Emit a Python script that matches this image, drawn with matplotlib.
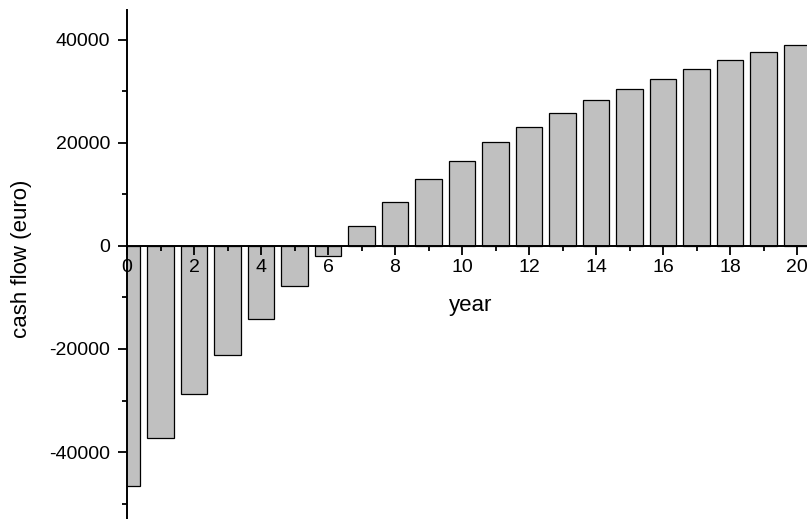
import matplotlib
matplotlib.use("Agg")
import matplotlib.pyplot as plt
from matplotlib.ticker import MultipleLocator

years = list(range(21))
cash_flow = [-46600, -37300, -28750, -21100, -14100, -7700, -1900,
             3850, 8600, 13000, 16550, 20200, 23150, 25800, 28350,
             30550, 32500, 34350, 36050, 37600, 39000]
x_ticks = [0, 2, 4, 6, 8, 10, 12, 14, 16, 18, 20]
y_ticks = [-40000, -20000, 0, 20000, 40000]

plt.rcParams['font.family'] = ['Liberation Sans', 'DejaVu Sans']
plt.rcParams['axes.unicode_minus'] = False

W, H = 807, 519
fig = plt.figure(figsize=(W / 100, H / 100), dpi=100)
left_px, right_px, top_px, bottom_px = 127, 813.75, 10, 519
ax = fig.add_axes([left_px / W, 1 - bottom_px / H,
                   (right_px - left_px) / W, (bottom_px - top_px) / H])

ax.bar(years, cash_flow, width=0.8, color='#c0c0c0', edgecolor='black',
       linewidth=0.9, zorder=1)

ax.set_xlim(0, 20.5)
ax.set_ylim(-53000, 45800)

for s in ['top', 'right']:
    ax.spines[s].set_visible(False)
ax.spines['bottom'].set_position(('data', 0))
ax.spines['bottom'].set_linewidth(1.4)
ax.spines['left'].set_linewidth(1.4)
ax.spines['bottom'].set_zorder(3)

ax.set_xticks(x_ticks)
ax.set_yticks(y_ticks)
ax.xaxis.set_minor_locator(MultipleLocator(1))
ax.yaxis.set_minor_locator(MultipleLocator(10000))
ax.tick_params(axis='both', which='major', direction='out', length=6.5,
               width=1.3, labelsize=14)
ax.tick_params(axis='both', which='minor', direction='out', length=3.6,
               width=1.3)
ax.tick_params(axis='x', which='major', pad=3)
ax.tick_params(axis='y', which='major', pad=5.5)

ax.set_xlabel('year', fontsize=16)
ax.xaxis.set_label_coords(0.5, (bottom_px - 305) / (bottom_px - top_px))
ax.xaxis.label.set_va('center')
ax.set_ylabel('cash flow (euro)', fontsize=16)
ax.yaxis.set_label_coords((22 - left_px) / (right_px - left_px),
                          (bottom_px - 259) / (bottom_px - top_px))
ax.yaxis.label.set_va('center')

fig.savefig('out.png', dpi=100)
